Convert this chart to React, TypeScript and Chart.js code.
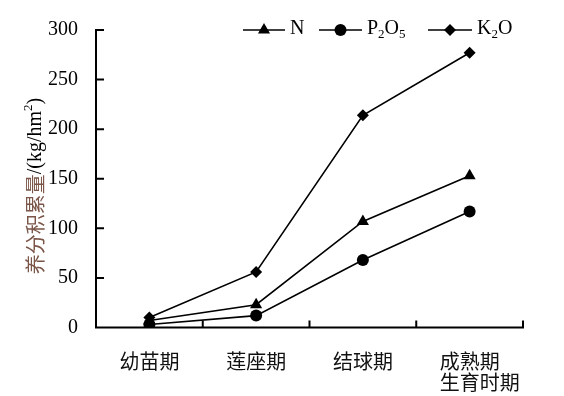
import React, { useEffect, useRef } from "react";
import { Chart, registerables } from "chart.js";

Chart.register(...registerables);

const categories = ["幼苗期", "莲座期", "结球期", "成熟期"];
const nValues = [7, 23, 107, 153];
const p2o5Values = [3, 12, 68, 117];
const k2oValues = [10, 56, 214, 277];
const yTickValues = [0, 50, 100, 150, 200, 250, 300];
const xTitle = "生育时期";
const yTitleCn = "养分积累量";
const yTitleUnit = "/(kg/hm";

const SERIF = '"Liberation Serif", "Times New Roman", serif';
const CJK = '"Noto Sans CJK SC", sans-serif';
const MIXED = '"Liberation Serif", "Noto Sans CJK SC", serif';

function drawMarker(ctx: CanvasRenderingContext2D, style: string, r: number, x: number, y: number) {
  ctx.beginPath();
  if (style === "triangle") {
    ctx.moveTo(x, y - r);
    ctx.lineTo(x + r * Math.sin(Math.PI / 3), y + r * 0.5);
    ctx.lineTo(x - r * Math.sin(Math.PI / 3), y + r * 0.5);
    ctx.closePath();
  } else if (style === "rectRot") {
    ctx.moveTo(x, y - r);
    ctx.lineTo(x + r, y);
    ctx.lineTo(x, y + r);
    ctx.lineTo(x - r, y);
    ctx.closePath();
  } else {
    ctx.arc(x, y, r, 0, Math.PI * 2);
  }
  ctx.fill();
}

function drawRichText(ctx: CanvasRenderingContext2D, parts: [string, number][], x: number, y: number) {
  let cx = x;
  for (const [t, mode] of parts) {
    if (mode === 0) {
      ctx.font = `20px ${SERIF}`;
      ctx.fillText(t, cx, y);
    } else {
      ctx.font = `13px ${SERIF}`;
      ctx.fillText(t, cx, y + (mode > 0 ? 4 : -7));
    }
    cx += ctx.measureText(t).width;
  }
  return cx;
}

const customPlugin = {
  id: "customDecor",
  beforeDraw(chart: any) {
    const ctx = chart.ctx;
    ctx.save();
    ctx.fillStyle = "#ffffff";
    ctx.fillRect(0, 0, chart.width, chart.height);
    ctx.restore();
  },
  beforeDatasetsDraw(chart: any) {
    const ctx: CanvasRenderingContext2D = chart.ctx;
    const { left, right, bottom } = chart.chartArea;
    const xs = chart.scales.x;
    const ys = chart.scales.y;
    ctx.save();
    ctx.strokeStyle = "#000";
    ctx.lineWidth = 2;
    ctx.beginPath();
    ctx.moveTo(left, ys.getPixelForValue(yTickValues[yTickValues.length - 1]) - 1);
    ctx.lineTo(left, bottom);
    ctx.lineTo(right, bottom);
    yTickValues.forEach((v) => {
      if (v === 0) return;
      const py = ys.getPixelForValue(v);
      ctx.moveTo(left - 1, py);
      ctx.lineTo(left + 8, py);
    });
    const n = categories.length;
    for (let i = 0; i < n; i++) {
      const px = i < n - 1 ? (xs.getPixelForValue(i) + xs.getPixelForValue(i + 1)) / 2 : right;
      ctx.moveTo(px, bottom + 1);
      ctx.lineTo(px, bottom - 7);
    }
    ctx.stroke();
    ctx.restore();
  },
  afterDraw(chart: any) {
    const ctx: CanvasRenderingContext2D = chart.ctx;
    const xs = chart.scales.x;
    ctx.save();
    ctx.fillStyle = "#000";
    ctx.strokeStyle = "#000";

    const legendY = 30;
    const items = [
      { x0: 243, x1: 285, label: [["N", 0]] as [string, number][] },
      { x0: 319, x1: 362, label: [["P", 0], ["2", 1], ["O", 0], ["5", 1]] as [string, number][] },
      { x0: 428, x1: 472, label: [["K", 0], ["2", 1], ["O", 0]] as [string, number][] },
    ];
    chart.data.datasets.forEach((ds: any, i: number) => {
      const it = items[i];
      ctx.lineWidth = 1.5;
      ctx.beginPath();
      ctx.moveTo(it.x0, legendY);
      ctx.lineTo(it.x1, legendY);
      ctx.stroke();
      drawMarker(ctx, ds.pointStyle, ds.pointRadius, (it.x0 + it.x1) / 2, legendY);
      ctx.textAlign = "left";
      ctx.textBaseline = "alphabetic";
      drawRichText(ctx, it.label, it.x1 + 5, legendY + 3.5);
    });

    ctx.font = `20px ${CJK}`;
    const lastCenter = xs.getPixelForValue(categories.length - 1);
    const lastW = ctx.measureText(categories[categories.length - 1]).width;
    ctx.textAlign = "left";
    ctx.textBaseline = "middle";
    ctx.fillStyle = "#111";
    ctx.fillText(xTitle, lastCenter - lastW / 2, 382);

    ctx.translate(35, 186);
    ctx.rotate(-Math.PI / 2);
    ctx.textBaseline = "middle";
    ctx.textAlign = "left";
    ctx.font = `20px ${CJK}`;
    const wCn = ctx.measureText(yTitleCn).width;
    ctx.font = `20px ${SERIF}`;
    const wUnit = ctx.measureText(yTitleUnit).width;
    const wClose = ctx.measureText(")").width;
    ctx.font = `13px ${SERIF}`;
    const wSup = ctx.measureText("2").width;
    const total = wCn + wUnit + wSup + wClose;
    let cx = -total / 2;
    ctx.font = `20px ${CJK}`;
    ctx.fillStyle = "#7a5548";
    ctx.fillText(yTitleCn, cx, 0);
    cx += wCn;
    ctx.fillStyle = "#000";
    ctx.font = `20px ${SERIF}`;
    ctx.fillText(yTitleUnit, cx, 1);
    cx += wUnit;
    ctx.font = `13px ${SERIF}`;
    ctx.fillText("2", cx, -6);
    cx += wSup;
    ctx.font = `20px ${SERIF}`;
    ctx.fillText(")", cx, 1);
    ctx.restore();
  },
};

export default function App() {
  const canvasRef = useRef<HTMLCanvasElement | null>(null);

  useEffect(() => {
    if (!canvasRef.current) return;
    const mk = (label: string, data: number[], pointStyle: string, r: number) => ({
      label,
      data,
      borderColor: "#000",
      backgroundColor: "#000",
      borderWidth: 1.6,
      pointStyle,
      pointRadius: r,
      pointBorderWidth: 0,
      pointBackgroundColor: "#000",
      tension: 0,
    });
    const chart = new Chart(canvasRef.current, {
      type: "line",
      data: {
        labels: categories,
        datasets: [
          mk("N", nValues, "triangle", 7),
          mk("P2O5", p2o5Values, "circle", 6),
          mk("K2O", k2oValues, "rectRot", 6),
        ],
      },
      options: {
        animation: false,
        responsive: false,
        devicePixelRatio: 1,
        layout: { padding: { left: 0, top: 28.7, right: 41, bottom: 0 } },
        plugins: {
          legend: { display: false },
          tooltip: { enabled: false },
        },
        scales: {
          x: {
            type: "category",
            offset: true,
            grid: { display: false, drawTicks: false },
            border: { display: false },
            ticks: {
              color: "#111",
              font: { family: MIXED, size: 20 },
              padding: 24,
              maxRotation: 0,
              autoSkip: false,
            },
            afterFit: (scale: any) => {
              scale.height = 68.5;
            },
          },
          y: {
            type: "linear",
            min: 0,
            max: 300,
            grid: { display: false, drawTicks: false },
            border: { display: false },
            afterBuildTicks: (scale: any) => {
              scale.ticks = yTickValues.map((v) => ({ value: v }));
            },
            ticks: {
              color: "#000",
              font: { family: SERIF, size: 20 },
              padding: 18,
            },
            afterFit: (scale: any) => {
              scale.width = 96;
            },
          },
        },
      },
      plugins: [customPlugin],
    });
    return () => chart.destroy();
  }, []);

  return (
    <div style={{ position: "fixed", left: 0, top: 0, width: 564, height: 396, background: "#fff" }}>
      <canvas ref={canvasRef} width={564} height={396} style={{ width: 564, height: 396, display: "block" }} />
    </div>
  );
}
